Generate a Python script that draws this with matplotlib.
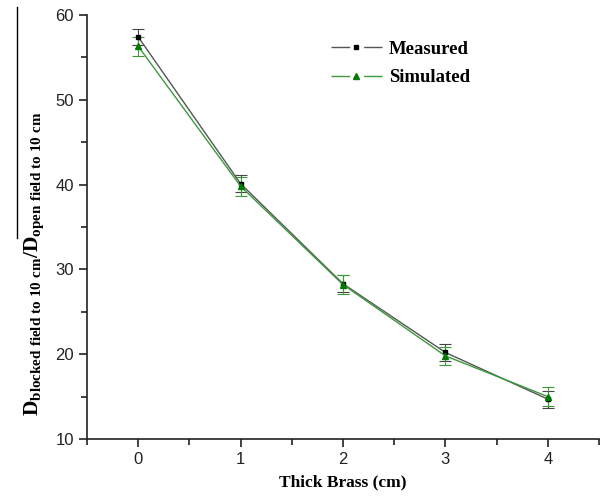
import matplotlib
matplotlib.use("Agg")
import matplotlib.pyplot as plt
from matplotlib.lines import Line2D
from matplotlib.ticker import MultipleLocator

thickness = [0, 1, 2, 3, 4]
measured = [57.4, 40.1, 28.3, 20.2, 14.7]
measured_err = [0.9, 1.0, 1.0, 1.0, 1.0]
simulated = [56.3, 39.8, 28.2, 19.8, 15.0]
simulated_err = [1.1, 1.1, 1.1, 1.1, 1.1]
xticks = [0, 1, 2, 3, 4]
yticks = [10, 20, 30, 40, 50, 60]

plt.rcParams['mathtext.fontset'] = 'custom'
plt.rcParams['mathtext.rm'] = 'Liberation Serif:bold'
plt.rcParams['mathtext.bf'] = 'Liberation Serif:bold'
plt.rcParams['mathtext.it'] = 'Liberation Serif:bold'

fig = plt.figure(figsize=(6.14, 4.97), dpi=100)
ax = fig.add_axes([0.1417, 0.1167, 0.8339, 0.8533])

mcol = '#555555'
scol = '#3c9a3c'
ax.errorbar(thickness, measured, yerr=measured_err, color=mcol, lw=1.0,
            marker='s', ms=3.5, mfc='black', mec='black',
            ecolor='#444444', elinewidth=0.8, capsize=4.5, capthick=0.8, zorder=3)
ax.errorbar(thickness, simulated, yerr=simulated_err, color=scol, lw=1.0,
            marker='^', ms=4, mfc='#007a00', mec='#007a00',
            ecolor=scol, elinewidth=0.8, capsize=4.5, capthick=0.8, zorder=3)

ax.set_xlim(-0.5, 4.5)
ax.set_ylim(10, 60)
ax.set_xticks(xticks)
ax.set_yticks(yticks)
ax.xaxis.set_minor_locator(MultipleLocator(0.5))
ax.yaxis.set_minor_locator(MultipleLocator(5))
for s in ['top', 'right']:
    ax.spines[s].set_visible(False)
for s in ['left', 'bottom']:
    ax.spines[s].set_linewidth(1.2)
    ax.spines[s].set_color('#222222')
ax.tick_params(which='major', direction='out', length=6, width=1.2, color='#222222',
               labelsize=12)
ax.tick_params(which='minor', direction='out', length=4, width=1.2, color='#222222')
for lab in ax.get_xticklabels() + ax.get_yticklabels():
    lab.set_fontfamily('Liberation Sans')
    lab.set_color('#222222')

ax.set_xlabel('Thick Brass (cm)', fontfamily='Liberation Serif', fontweight='bold',
              fontsize=12.5, labelpad=5)

fig.text(0.055, 0.47,
         r'$\mathrm{D}_{\mathrm{blocked\ field\ to\ 10\ cm}}\mathrm{/D}_{\mathrm{open\ field\ to\ 10\ cm}}$',
         rotation=90, ha='center', va='center', fontsize=15.5)
fig.add_artist(Line2D([0.027, 0.027], [1 - 7/497, 1 - 238/497], color='black', lw=1.0,
                      transform=fig.transFigure))

dash = (0, (13.5, 10.0, 30))
h_meas = Line2D([], [], color=mcol, lw=1.0, ls=dash, marker='s', ms=3.5,
                mfc='black', mec='black')
h_sim = Line2D([], [], color=scol, lw=1.0, ls=dash, marker='^', ms=4,
               mfc='#007a00', mec='#007a00')
leg = ax.legend([h_meas, h_sim], ['Measured', 'Simulated'],
                loc='upper left', bbox_to_anchor=(0.511, 0.952), bbox_transform=fig.transFigure,
                frameon=False, handlelength=2.75, handletextpad=0.36, labelspacing=0.6,
                prop={'family': 'Liberation Serif', 'weight': 'bold', 'size': 13.5})

fig.savefig('out.png', dpi=100)
